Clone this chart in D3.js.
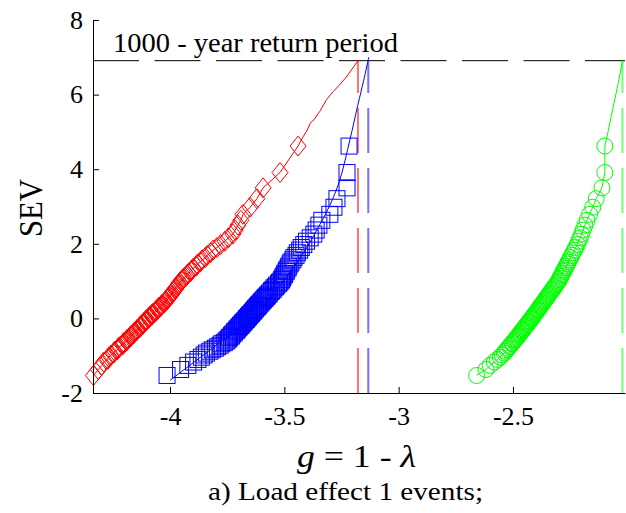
<!DOCTYPE html>
<html lang="en">
<head>
<meta charset="UTF-8">
<title>SEV vs g</title>
<script src="https://d3js.org/d3.v7.min.js"></script>
<style>
  body { margin: 0; background: #fff; }
  svg { display: block; font-family: "Liberation Serif", "Times New Roman", serif; }
  .tick text { font-family: "Liberation Serif", "Times New Roman", serif; font-size: 26px; fill: #000; }
  .tick line, .domain { stroke: #000; }
</style>
</head>
<body>
<svg id="chart" width="626" height="513"></svg>
<script>
// standardized extreme variate (same plotting positions for all three samples)
const sev = [
  -1.53, -1.37, -1.26, -1.17, -1.10, -1.04, -0.98, -0.93, -0.88, -0.84,
  -0.80, -0.76, -0.72, -0.68, -0.65, -0.61, -0.58, -0.55, -0.51, -0.48,
  -0.45, -0.42, -0.39, -0.36, -0.33, -0.31, -0.28, -0.25, -0.22, -0.19,
  -0.17, -0.14, -0.11, -0.09, -0.06, -0.03, 0.00, 0.02, 0.05, 0.08,
  0.10, 0.13, 0.16, 0.19, 0.21, 0.24, 0.27, 0.30, 0.32, 0.35,
  0.38, 0.41, 0.44, 0.47, 0.50, 0.53, 0.56, 0.59, 0.62, 0.65,
  0.68, 0.72, 0.75, 0.78, 0.82, 0.85, 0.89, 0.93, 0.97, 1.00,
  1.04, 1.08, 1.13, 1.17, 1.21, 1.26, 1.30, 1.35, 1.40, 1.46,
  1.51, 1.57, 1.63, 1.69, 1.76, 1.83, 1.90, 1.98, 2.07, 2.16,
  2.26, 2.37, 2.50, 2.63, 2.79, 2.98, 3.21, 3.50, 3.91, 4.62
];

// g = 1 - lambda, red diamonds
const redX = [
  -4.335, -4.314, -4.298, -4.290, -4.272, -4.268, -4.258, -4.246, -4.242, -4.230,
  -4.226, -4.222, -4.208, -4.205, -4.203, -4.190, -4.188, -4.186, -4.175, -4.172,
  -4.170, -4.160, -4.157, -4.155, -4.146, -4.145, -4.142, -4.132, -4.130, -4.128,
  -4.120, -4.117, -4.115, -4.108, -4.105, -4.103, -4.094, -4.092, -4.090, -4.080,
  -4.079, -4.077, -4.067, -4.064, -4.062, -4.054, -4.051, -4.049, -4.041, -4.038,
  -4.035, -4.026, -4.023, -4.020, -4.012, -4.010, -4.007, -4.001, -3.998, -3.996,
  -3.990, -3.986, -3.984, -3.977, -3.974, -3.971, -3.964, -3.961, -3.958, -3.950,
  -3.946, -3.941, -3.930, -3.926, -3.920, -3.909, -3.905, -3.898, -3.886, -3.880,
  -3.868, -3.860, -3.846, -3.838, -3.823, -3.812, -3.795, -3.779, -3.760, -3.745,
  -3.725, -3.715, -3.703, -3.690, -3.681, -3.650, -3.620, -3.593, -3.519, -3.440
];

// blue squares
const blueX = [
  -4.013, -3.954, -3.922, -3.897, -3.878, -3.863, -3.851, -3.841, -3.826, -3.815,
  -3.802, -3.792, -3.781, -3.774, -3.763, -3.755, -3.750, -3.744, -3.740, -3.733,
  -3.731, -3.726, -3.720, -3.718, -3.712, -3.708, -3.706, -3.700, -3.697, -3.691,
  -3.689, -3.684, -3.681, -3.676, -3.673, -3.667, -3.665, -3.660, -3.657, -3.652,
  -3.650, -3.644, -3.641, -3.636, -3.634, -3.629, -3.626, -3.620, -3.618, -3.613,
  -3.610, -3.604, -3.601, -3.595, -3.592, -3.586, -3.583, -3.577, -3.574, -3.568,
  -3.565, -3.558, -3.555, -3.549, -3.545, -3.538, -3.534, -3.526, -3.522, -3.515,
  -3.512, -3.508, -3.505, -3.500, -3.498, -3.492, -3.490, -3.484, -3.481, -3.475,
  -3.471, -3.463, -3.458, -3.449, -3.443, -3.433, -3.426, -3.415, -3.403, -3.387,
  -3.371, -3.361, -3.349, -3.336, -3.301, -3.283, -3.270, -3.226, -3.226, -3.217
];

// green circles
const greenX = [
  -2.659, -2.618, -2.600, -2.582, -2.568, -2.556, -2.547, -2.538, -2.534, -2.526,
  -2.523, -2.515, -2.512, -2.504, -2.502, -2.495, -2.493, -2.487, -2.483, -2.477,
  -2.476, -2.470, -2.468, -2.462, -2.461, -2.456, -2.454, -2.449, -2.447, -2.441,
  -2.440, -2.435, -2.433, -2.428, -2.427, -2.421, -2.419, -2.415, -2.413, -2.408,
  -2.407, -2.402, -2.400, -2.395, -2.394, -2.389, -2.387, -2.382, -2.381, -2.376,
  -2.374, -2.369, -2.367, -2.362, -2.360, -2.355, -2.353, -2.348, -2.346, -2.341,
  -2.339, -2.332, -2.331, -2.325, -2.323, -2.317, -2.315, -2.308, -2.305, -2.300,
  -2.299, -2.293, -2.291, -2.286, -2.284, -2.278, -2.277, -2.271, -2.268, -2.261,
  -2.259, -2.252, -2.249, -2.242, -2.238, -2.230, -2.226, -2.218, -2.213, -2.206,
  -2.200, -2.193, -2.185, -2.176, -2.165, -2.151, -2.136, -2.111, -2.098, -2.098
];

// extrapolated tails / fitted curve
const redTailX = [-3.420, -3.400, -3.385, -3.370, -3.345, -3.315, -3.285, -3.260, -3.225, -3.178];
const redTailY = [4.85, 5.05, 5.25, 5.33, 5.55, 5.87, 6.09, 6.25, 6.50, 6.91];
const greenTailX = [-2.083, -2.062, -2.040, -2.021];
const greenTailY = [5.04, 5.66, 6.29, 6.91];
const blueFitX = [-4.0, -3.869, -3.760, -3.651, -3.563, -3.476, -3.410, -3.354, -3.301, -3.258, -3.214, -3.179, -3.153, -3.131];
const blueFitY = [-1.66, -1.05, -0.54, 0.0, 0.54, 1.23, 1.82, 2.41, 3.03, 3.70, 4.77, 5.71, 6.38, 7.00];

// 1000-year return period level and where each series reaches it
const returnSev = 6.91;
const returnG = [-3.178, -3.133, -2.021];
const returnColors = ["#ff0000", "#0000ff", "#00ff00"];

const xTicks = [-4, -3.5, -3, -2.5];
const yTicks = [-2, 0, 2, 4, 6, 8];

const svg = d3.select("#chart");

const x = d3.scaleLinear().domain([-4.337, -2.01]).range([93, 625]);
const y = d3.scaleLinear().domain([-2, 8]).range([393, 20]);

const zip = (xs, ys) => xs.map((v, i) => [v, ys[i]]);
const line = d3.line().x(d => x(d[0])).y(d => y(d[1]));

// horizontal return-period line
svg.append("line")
  .attr("x1", x.range()[0]).attr("x2", x.range()[1])
  .attr("y1", y(returnSev)).attr("y2", y(returnSev))
  .attr("stroke", "#000").attr("stroke-width", 1)
  .attr("stroke-dasharray", "46,15.5");

// vertical dashed lines, drawn bottom up
returnG.forEach((g, i) => {
  svg.append("line")
    .attr("x1", x(g)).attr("x2", x(g))
    .attr("y1", y(-2)).attr("y2", y(returnSev))
    .attr("stroke", returnColors[i]).attr("stroke-opacity", 0.55)
    .attr("stroke-width", 2)
    .attr("stroke-dasharray", "45,15");
});

svg.append("text")
  .attr("x", 113).attr("y", 52)
  .attr("textLength", 285).attr("lengthAdjust", "spacingAndGlyphs")
  .style("font-size", "27px")
  .text("1000 - year return period");

// red series
const redPts = zip(redX, sev);
svg.append("path")
  .datum(redPts.concat(zip(redTailX, redTailY)))
  .attr("d", line).attr("fill", "none").attr("stroke", "#ff0000").attr("stroke-width", 1);
svg.selectAll(".dia").data(redPts).enter().append("path")
  .attr("class", "dia")
  .attr("d", "M0,-10L8,0L0,10L-8,0Z")
  .attr("transform", d => `translate(${x(d[0])},${y(d[1])})`)
  .attr("fill", "none").attr("stroke", "#ff0000").attr("stroke-width", 1);

// blue series
const bluePts = zip(blueX, sev);
svg.append("path")
  .datum(zip(blueFitX, blueFitY))
  .attr("d", line.curve(d3.curveCatmullRom))
  .attr("fill", "none").attr("stroke", "#0000ff").attr("stroke-width", 1);
line.curve(d3.curveLinear);
svg.selectAll(".sq").data(bluePts).enter().append("rect")
  .attr("class", "sq")
  .attr("x", d => x(d[0]) - 8).attr("y", d => y(d[1]) - 8)
  .attr("width", 16).attr("height", 16)
  .attr("fill", "none").attr("stroke", "#0000ff").attr("stroke-width", 1);

// green series
const greenPts = zip(greenX, sev);
svg.append("path")
  .datum(greenPts.concat(zip(greenTailX, greenTailY)))
  .attr("d", line).attr("fill", "none").attr("stroke", "#00ff00").attr("stroke-width", 1);
svg.selectAll(".circ").data(greenPts).enter().append("circle")
  .attr("class", "circ")
  .attr("cx", d => x(d[0])).attr("cy", d => y(d[1])).attr("r", 8)
  .attr("fill", "none").attr("stroke", "#00ff00").attr("stroke-width", 1);

// axes, ticks pointing inward
const fmt = d => String(d);
svg.append("g")
  .attr("transform", `translate(0,${y(-2)})`)
  .call(d3.axisBottom(x).tickValues(xTicks).tickFormat(fmt).tickSizeInner(-6).tickSizeOuter(0).tickPadding(14));
svg.append("g")
  .attr("transform", `translate(${x.range()[0]},0)`)
  .call(d3.axisLeft(y).tickValues(yTicks).tickFormat(fmt).tickSizeInner(-6).tickSizeOuter(0).tickPadding(10));

// labels
svg.append("text")
  .attr("transform", "translate(42,208) rotate(-90)")
  .attr("text-anchor", "middle")
  .attr("textLength", 58).attr("lengthAdjust", "spacingAndGlyphs")
  .style("font-size", "33px")
  .text("SEV");

const xl = svg.append("text")
  .attr("x", 297).attr("y", 467)
  .attr("textLength", 119).attr("lengthAdjust", "spacingAndGlyphs")
  .style("font-size", "31px");
xl.append("tspan").style("font-style", "italic").text("g");
xl.append("tspan").text(" = 1 - ");
xl.append("tspan").style("font-style", "italic").text("λ");

svg.append("text")
  .attr("x", 208).attr("y", 500)
  .attr("textLength", 275).attr("lengthAdjust", "spacingAndGlyphs")
  .style("font-size", "26px")
  .text("a) Load effect 1 events;");
</script>
</body>
</html>
